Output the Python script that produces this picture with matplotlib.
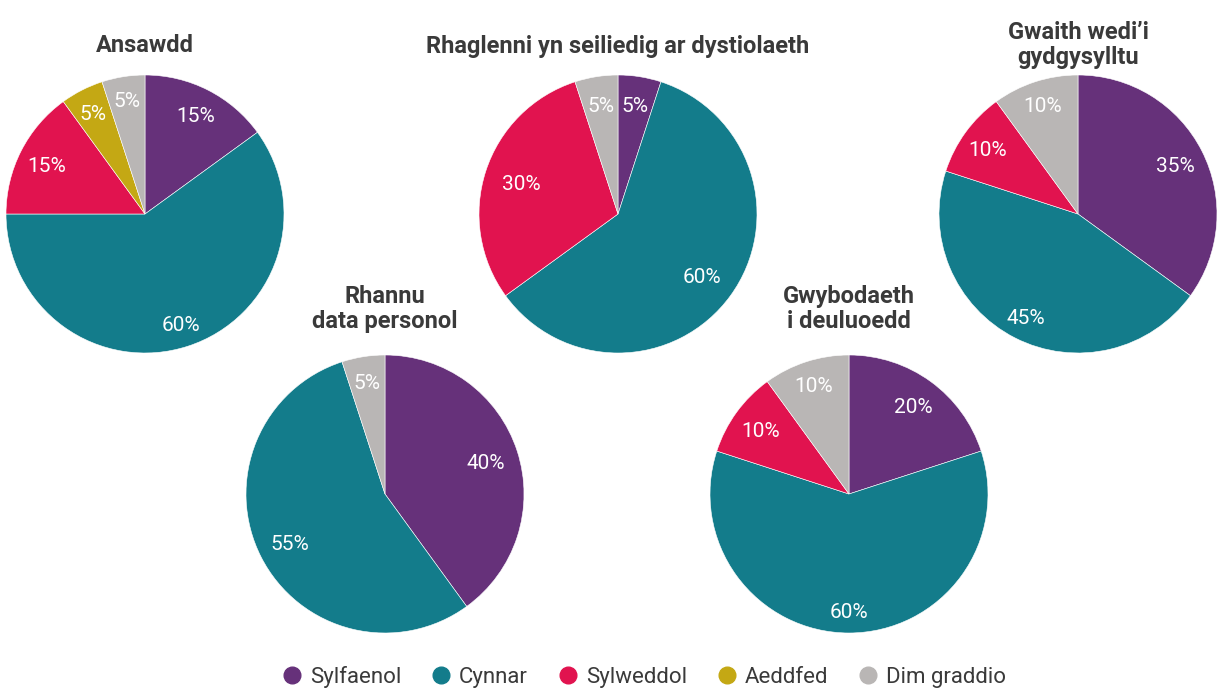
import matplotlib
matplotlib.use("Agg")
import matplotlib.pyplot as plt
import numpy as np
from matplotlib.lines import Line2D

plt.rcParams['font.family'] = ['Roboto', 'DejaVu Sans']

categories = ["Sylfaenol", "Cynnar", "Sylweddol", "Aeddfed", "Dim graddio"]
colors = ["#66317a", "#137c8b", "#e1134f", "#c4a814", "#b9b6b5"]

titles = ["Ansawdd", "Rhaglenni yn seiliedig ar dystiolaeth", "Gwaith wedi\u2019i\ngydgysylltu",
          "Rhannu\ndata personol", "Gwybodaeth\ni deuluoedd"]
ansawdd = [15, 60, 15, 5, 5]
rhaglenni = [5, 60, 30, 0, 5]
gwaith = [35, 45, 10, 0, 10]
rhannu = [40, 55, 0, 0, 5]
gwybodaeth = [20, 60, 10, 0, 10]
series = [ansawdd, rhaglenni, gwaith, rhannu, gwybodaeth]

# label distances (fraction of radius) per non-zero slice
label_dists = [[0.80, 0.83, 0.79, 0.82, 0.83],
               [0.80, 0.75, 0.73, 0.80],
               [0.79, 0.83, 0.80, 0.83],
               [0.76, 0.77, 0.82],
               [0.79, 0.84, 0.79, 0.83]]

W, H = 1217, 688
fig = plt.figure(figsize=(W / 100, H / 100), dpi=100)

centers = [(145, 214), (618, 214), (1078, 214), (385, 494), (849, 494)]
R = 139
title_y = [46, 46, 45, 309, 309]
half_cap = 7.4 / R

for vals, title, (cx, cy), ty, ld in zip(series, titles, centers, title_y, label_dists):
    ax = fig.add_axes([(cx - R) / W, 1 - (cy + R) / H, 2 * R / W, 2 * R / H])
    v = [x for x in vals if x > 0]
    c = [col for x, col in zip(vals, colors) if x > 0]
    wedges, texts = ax.pie(v, colors=c, startangle=90, counterclock=False,
                           labels=[f"{x}%" for x in v], labeldistance=0.77,
                           wedgeprops=dict(edgecolor="white", linewidth=0.4),
                           textprops=dict(color="white", fontsize=15))
    for w, t, d in zip(wedges, texts, ld):
        ang = np.deg2rad((w.theta1 + w.theta2) / 2)
        t.set_position((d * np.cos(ang), d * np.sin(ang) - half_cap))
        t.set_ha("center")
        t.set_va("baseline")
    ax.set_xlim(-1, 1)
    ax.set_ylim(-1, 1)
    ax.set_aspect("equal")
    fig.text(cx / W, 1 - ty / H, title, ha="center", va="center",
             fontsize=17, fontweight="bold", color="#3a3a3a", linespacing=1.1)

handles = [Line2D([], [], marker="o", linestyle="", markersize=12,
                  markerfacecolor=col, markeredgecolor=col) for col in colors]
fig.legend(handles, categories, loc="center", bbox_to_anchor=(0.527, 1 - 677 / H),
           ncol=5, frameon=False, fontsize=16, handletextpad=0.1, columnspacing=1.1,
           handlelength=1.4, labelcolor="#3a3a3a")

fig.savefig("out.png", dpi=100)
